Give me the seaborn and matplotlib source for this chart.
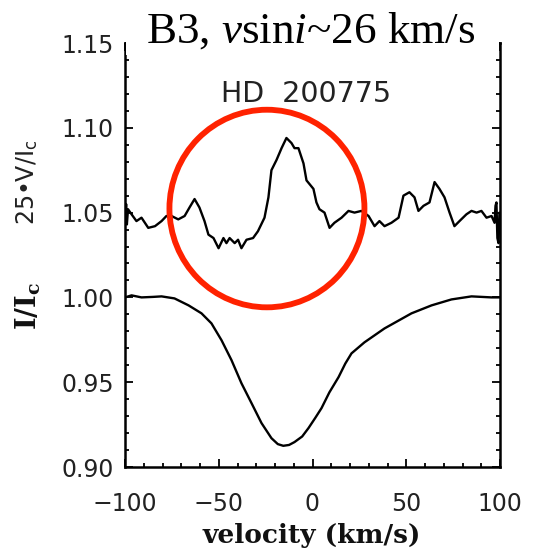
import numpy as np
import pandas as pd
import matplotlib
matplotlib.use("Agg")
import matplotlib.pyplot as plt
import seaborn as sns
from matplotlib.patches import Ellipse, Rectangle
from matplotlib.ticker import MultipleLocator

# ---- data ----
vel_v = [-99.8, -99.4, -99.0, -98.4, -96.5, -93.9, -91.2, -87.6, -84.0, -80.5,
         -77.9, -75.2, -71.6, -68.2, -65.6, -62.9, -60.3, -57.6, -55.5, -52.8,
         -50.1, -47.5, -45.9, -44.2, -41.5, -39.7, -37.9, -35.2, -31.7, -29.1,
         -25.6, -23.5, -21.9, -19.2, -16.5, -13.9, -11.2, -9.6, -7.5, -4.8,
         -3.2, 0.5, 2.1, 3.7, 6.4, 9.1, 11.7, 15.5, 19.2, 22.4,
         26.1, 29.9, 33.1, 35.7, 38.4, 42.1, 45.9, 48.5, 51.7, 54.4,
         56.5, 59.2, 62.4, 65.1, 67.7, 70.4, 73.1, 75.7, 78.4, 82.1,
         84.8, 87.5, 90.1, 92.8, 95.5, 97.1, 97.6, 98.1, 98.6, 99.2, 99.7]
stokes_v = [1.048, 1.055, 1.043, 1.052, 1.049, 1.045, 1.047, 1.041, 1.042, 1.045,
            1.048, 1.048, 1.046, 1.048, 1.053, 1.058, 1.053, 1.045, 1.037, 1.035,
            1.029, 1.035, 1.032, 1.035, 1.032, 1.034, 1.029, 1.034, 1.035, 1.039,
            1.047, 1.059, 1.075, 1.081, 1.088, 1.094, 1.091, 1.088, 1.088, 1.079,
            1.069, 1.064, 1.056, 1.052, 1.050, 1.041, 1.044, 1.047, 1.051, 1.050,
            1.051, 1.048, 1.042, 1.045, 1.042, 1.044, 1.047, 1.060, 1.062, 1.059,
            1.051, 1.054, 1.056, 1.068, 1.064, 1.059, 1.050, 1.042, 1.045, 1.049,
            1.051, 1.050, 1.051, 1.047, 1.048, 1.044, 1.054, 1.056, 1.035, 1.032, 1.050]

vel_i = [-100, -96.5, -91.2, -85, -80.5, -73.6, -66.1, -59.2, -53.9, -48.5,
         -43.2, -37.9, -32.5, -27.2, -21.9, -18.5, -15.6, -12.5, -9.6, -5.5,
         -2.1, 1.5, 4.8, 9.0, 13.9, 17.5, 20.8, 27.7, 38.4, 52.8,
         63.5, 74.1, 84.8, 95.5, 100]
intensity = [1.000, 1.0012, 1.000, 1.0003, 1.0006, 0.9994, 0.9953, 0.9906, 0.9847, 0.9747,
             0.963, 0.9494, 0.9376, 0.9259, 0.917, 0.9135, 0.9125, 0.9130, 0.9147, 0.918,
             0.923, 0.929, 0.9347, 0.944, 0.953, 0.961, 0.967, 0.9735, 0.9817, 0.9906,
             0.9953, 0.9988, 1.0006, 1.000, 1.000]

x_ticks = [-100, -50, 0, 50, 100]
y_ticks = [0.90, 0.95, 1.00, 1.05, 1.10, 1.15]

title_text = "B3, $\\mathit{v}$sin$\\mathit{i}$~26 km/s"
star_name = "HD  200775"

# ---- style ----
sns.set_style("ticks")
plt.rcParams["font.family"] = ["DejaVu Sans"]
plt.rcParams["mathtext.fontset"] = "custom"
plt.rcParams["mathtext.rm"] = "DejaVu Sans"
plt.rcParams["mathtext.bf"] = "DejaVu Serif:bold"
plt.rcParams["mathtext.it"] = "Liberation Serif:italic"

W, H = 536, 552
fig = plt.figure(figsize=(W / 100, H / 100), dpi=100)
ax = fig.add_axes([125 / W, 85 / H, 375 / W, 424 / H])

df_v = pd.DataFrame({"velocity": vel_v, "value": stokes_v})
df_i = pd.DataFrame({"velocity": vel_i, "value": intensity})
sns.lineplot(data=df_v, x="velocity", y="value", ax=ax, color="black", lw=1.7,
             estimator=None, sort=False)
sns.lineplot(data=df_i, x="velocity", y="value", ax=ax, color="black", lw=1.7,
             estimator=None, sort=False)

ax.set_xlim(-100, 100)
ax.set_ylim(0.90, 1.15)
ax.set_xticks(x_ticks)
ax.set_yticks(y_ticks)
ax.set_xticklabels(["\u2212100", "\u221250", "0", "50", "100"])
ax.set_yticklabels([f"{t:.2f}" for t in y_ticks])
ax.xaxis.set_minor_locator(MultipleLocator(10))
ax.yaxis.set_minor_locator(MultipleLocator(0.01))
ax.tick_params(which="both", direction="in", top=True, right=True, width=1.3, color="black")
ax.tick_params(which="major", length=6)
ax.tick_params(which="minor", length=3)
ax.tick_params(axis="y", labelsize=17, pad=8, labelcolor="#222222")
ax.tick_params(axis="x", labelsize=17, pad=18, labelcolor="#222222")
for s in ax.spines.values():
    s.set_linewidth(1.8)
    s.set_color("black")
ax.set_xlabel("")
ax.set_ylabel("")

# red circle
circ = Ellipse((-24.3, 1.0524), width=104, height=0.1165, fill=False,
               edgecolor="#FF2200", lw=4.2, zorder=4, clip_on=False)
ax.add_patch(circ)

ax.text(-3.5, 1.1197, star_name, fontsize=20.5, ha="center", va="center", color="#222222")

# labels
fig.text(312 / W, 1 - 535 / H, "velocity (km/s)", fontsize=19, family="DejaVu Serif",
         fontweight="bold", ha="center", va="center", color="#111111")
fig.text(28 / W, 1 - 306 / H, "$\\mathbf{I/I_c}$", fontsize=19.5, rotation=90,
         ha="center", va="center", color="#111111")
fig.text(27 / W, 1 - 182 / H, "25\u2022V/I$_\\mathrm{c}$", fontsize=17, rotation=90,
         ha="center", va="center", color="#222222")

# white title box covering the top of the frame
fig.patches.append(Rectangle((126 / W, 1 - 55 / H), (499 - 126) / W, 55 / H,
                             transform=fig.transFigure, facecolor="white",
                             edgecolor="none", zorder=5))
fig.text(311 / W, 1 - 43 / H, title_text, fontsize=32.5, family="Liberation Serif",
         ha="center", va="baseline", color="black", zorder=6)

fig.savefig("out.png", dpi=100)
